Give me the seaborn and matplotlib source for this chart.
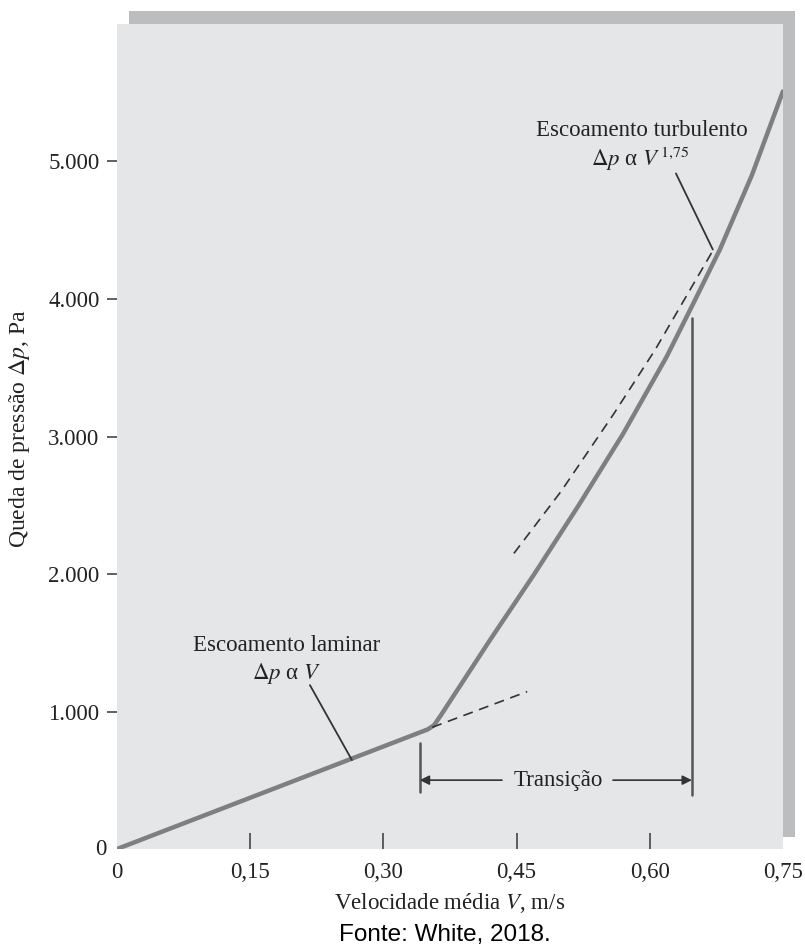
import matplotlib
matplotlib.use("Agg")
import matplotlib.pyplot as plt
import seaborn as sns
import pandas as pd

# ---- data ----
V_curve = [0.0, 0.35, 0.357, 0.365, 0.42, 0.47, 0.52, 0.57, 0.619, 0.65, 0.679, 0.715, 0.75]
dp_curve = [0, 870, 900, 975, 1519, 2000, 2500, 3020, 3580, 3980, 4360, 4900, 5510]

V_lam_dash = [0.355, 0.462]
dp_lam_dash = [885, 1145]

V_turb_dash = [0.447, 0.50, 0.56, 0.606, 0.67]
dp_turb_dash = [2150, 2600, 3170, 3630, 4340]

x_ticks = [0.0, 0.15, 0.30, 0.45, 0.60, 0.75]
x_tick_labels = ["0", "0,15", "0,30", "0,45", "0,60", "0,75"]
y_ticks = [1000, 2000, 3000, 4000, 5000]
y_tick_labels = ["1.000", "2.000", "3.000", "4.000", "5.000"]

trans_left, trans_right = 0.341, 0.6475

sns.set_theme(style="white")
plt.rcParams["font.family"] = ["Liberation Serif", "DejaVu Serif"]
plt.rcParams["mathtext.fontset"] = "stix"

FS = 16.5
DARK = "#333333"
TXT = "#222222"

fig = plt.figure(figsize=(8.05, 9.48), dpi=100)
fig.patch.set_facecolor("white")

# shadow panel (behind the plot area)
shadow = fig.add_axes([0.1602, 0.1171, 0.8273, 0.8713])
shadow.set_facecolor("#bcbdbf")
shadow.set_xticks([])
shadow.set_yticks([])
for s in shadow.spines.values():
    s.set_visible(False)
shadow.set_zorder(0)

ax = fig.add_axes([0.1453, 0.1044, 0.8273, 0.8703])
ax.set_zorder(1)
ax.set_facecolor("#e5e6e8")
for s in ax.spines.values():
    s.set_visible(False)

df = pd.DataFrame({"V": V_curve, "dp": dp_curve})
sns.lineplot(data=df, x="V", y="dp", ax=ax, color="#7f7f81", linewidth=3.2,
             sort=False, solid_capstyle="round", solid_joinstyle="round")
sns.lineplot(x=V_lam_dash, y=dp_lam_dash, ax=ax, color=DARK, linewidth=1.2,
             linestyle=(0, (6, 4)))
sns.lineplot(x=V_turb_dash, y=dp_turb_dash, ax=ax, color=DARK, linewidth=1.2,
             linestyle=(0, (6, 4)), sort=False)

ax.set_xlim(0, 0.75)
ax.set_ylim(0, 6000)

ax.set_xticks(x_ticks)
ax.set_xticklabels(x_tick_labels, fontsize=FS)
ax.set_yticks(y_ticks)
ax.set_yticklabels(y_tick_labels, fontsize=FS)
ax.tick_params(axis="x", direction="in", length=11.5, width=1.2, color="#444444",
               pad=9, bottom=True, labelcolor=TXT)
ax.tick_params(axis="y", direction="out", length=7, width=1.2, color="#444444",
               pad=5.5, left=True, labelcolor=TXT)
xt = ax.xaxis.get_major_ticks()
xt[0].tick1line.set_visible(False)
xt[-1].tick1line.set_visible(False)
ax.text(-0.012, 0, "0", fontsize=FS, ha="right", va="center", color=TXT)

ax.set_xlabel("Velocidade média $V$, m/s", fontsize=FS, color=TXT, labelpad=6)
ax.set_ylabel("Queda de pressão $\\Delta p$, Pa", fontsize=17, color=TXT)
ax.yaxis.set_label_coords(-0.128, 0.51)

# annotations
ax.text(0.1914, 1483, "Escoamento laminar", fontsize=FS, ha="center", va="center", color=TXT)
ax.text(0.1914, 1279, "$\\Delta p$ α $V$", fontsize=FS, ha="center", va="center", color=TXT)
ax.plot([0.2173, 0.2646], [1192, 647], color=DARK, linewidth=1.3)

ax.text(0.591, 5225, "Escoamento turbulento", fontsize=FS, ha="center", va="center", color=TXT)
ax.text(0.589, 5022, "$\\Delta p$ α $V^{\\,\\mathrm{1{,}75}}$", fontsize=FS, ha="center", va="center", color=TXT)
ax.plot([0.6295, 0.671], [4913, 4360], color=DARK, linewidth=1.3)

# transition bracket
ax.plot([trans_left, trans_left], [414, 770], color="#555555", linewidth=1.8)
ax.plot([trans_right, trans_right], [392, 3859], color="#555555", linewidth=1.8)
ax.text(0.4966, 501, "Transição", fontsize=FS, ha="center", va="center", color=TXT)
ax.annotate("", xy=(trans_left, 501), xytext=(0.4336, 501),
            arrowprops=dict(arrowstyle="-|>", color=DARK, lw=1.2,
                            mutation_scale=14, shrinkA=0, shrinkB=0))
ax.annotate("", xy=(trans_right, 501), xytext=(0.5586, 501),
            arrowprops=dict(arrowstyle="-|>", color=DARK, lw=1.2,
                            mutation_scale=14, shrinkA=0, shrinkB=0))

fig.text(445 / 805, 1 - 935 / 948, "Fonte: White, 2018.", fontsize=17.5,
         family=["Liberation Sans", "DejaVu Sans"], ha="center", va="center", color="black")

fig.savefig("out.png", dpi=100)
